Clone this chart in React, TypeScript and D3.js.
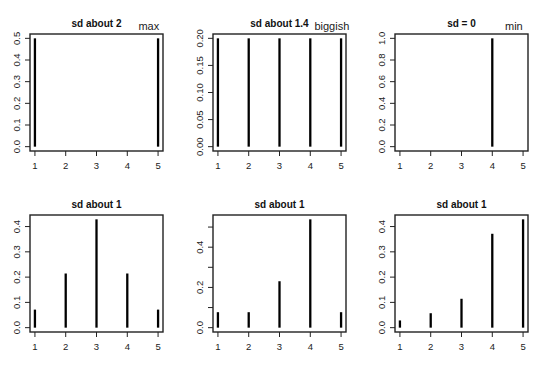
import React from 'react';
import * as d3 from 'd3';

// categories on the x axis
const categories = [1, 2, 3, 4, 5];
const xTickLabels = ['1', '2', '3', '4', '5'];

// probabilities for each panel
const probsA = [0.5, 0, 0, 0, 0.5];
const probsB = [0.2, 0.2, 0.2, 0.2, 0.2];
const probsC = [0, 0, 0, 1, 0];
const probsD = [1 / 14, 3 / 14, 6 / 14, 3 / 14, 1 / 14];
const probsE = [1 / 13, 1 / 13, 3 / 13, 7 / 13, 1 / 13];
const probsF = [1 / 35, 2 / 35, 4 / 35, 13 / 35, 15 / 35];

// y ticks (value, label) per panel
const yTicksA = ['0.0', '0.1', '0.2', '0.3', '0.4', '0.5'];
const yTicksB = ['0.00', '0.05', '0.10', '0.15', '0.20'];
const yTicksC = ['0.0', '0.2', '0.4', '0.6', '0.8', '1.0'];
const yTicksD = ['0.0', '0.1', '0.2', '0.3', '0.4'];
const yTicksE = ['0.0', '0.1', '0.2', '0.3', '0.4', '0.5'];
const yLabelsE = ['0.0', '', '0.2', '', '0.4', ''];
const yTicksF = ['0.0', '0.1', '0.2', '0.3', '0.4'];

const titles = ['sd about 2', 'sd about 1.4', 'sd = 0', 'sd about 1', 'sd about 1', 'sd about 1'];
const notes = ['max', 'biggish', 'min', '', '', ''];

const panels = [
  { probs: probsA, ticks: yTicksA, labels: yTicksA },
  { probs: probsB, ticks: yTicksB, labels: yTicksB },
  { probs: probsC, ticks: yTicksC, labels: yTicksC },
  { probs: probsD, ticks: yTicksD, labels: yTicksD },
  { probs: probsE, ticks: yTicksE, labels: yLabelsE },
  { probs: probsF, ticks: yTicksF, labels: yTicksF },
];

const boxLefts = [30, 213, 395];
const boxTops = [34, 215];
const boxW = 133;
const boxH = 117;
const font = 'Liberation Sans, Arial, Helvetica, sans-serif';

function Panel({ i }: { i: number }) {
  const p = panels[i];
  const left = boxLefts[i % 3];
  const top = boxTops[Math.floor(i / 3)];
  const bottom = top + boxH;
  const right = left + boxW;

  // R style: range extended by 4% on each side
  const xMin = d3.min(categories)!, xMax = d3.max(categories)!;
  const xPad = (xMax - xMin) * 0.04;
  const x = d3.scaleLinear().domain([xMin - xPad, xMax + xPad]).range([left, right]);
  const yMax = d3.max(p.probs)!;
  const yPad = yMax * 0.04;
  const y = d3.scaleLinear().domain([-yPad, yMax + yPad]).range([bottom, top]);

  return (
    <g>
      {categories.map((c, j) => (
        <line key={'b' + j} x1={x(c)} x2={x(c)} y1={y(0)} y2={y(p.probs[j])}
          stroke="#000" strokeWidth={2.3} />
      ))}
      <rect x={left} y={top} width={boxW} height={boxH} fill="none" stroke="#222" strokeWidth={1.4} />
      {categories.map((c, j) => (
        <g key={'x' + j}>
          <line x1={x(c)} x2={x(c)} y1={bottom} y2={bottom + 5} stroke="#222" strokeWidth={1} />
          <text x={x(c)} y={bottom + 18} textAnchor="middle" fontSize={9.5} fontFamily={font} fill="#222">
            {xTickLabels[j]}
          </text>
        </g>
      ))}
      {p.ticks.map((t, j) => {
        const v = parseFloat(t);
        return (
          <g key={'y' + j}>
            <line x1={left - 5} x2={left} y1={y(v)} y2={y(v)} stroke="#222" strokeWidth={1} />
            {p.labels[j] && (
              <text transform={`translate(${left - 10.5},${y(v)}) rotate(-90)`} textAnchor="middle"
                fontSize={9.5} fontFamily={font} fill="#222">
                {p.labels[j]}
              </text>
            )}
          </g>
        );
      })}
      <text x={(left + right) / 2} y={top - 7.5} textAnchor="middle" fontSize={10} fontWeight="bold"
        fontFamily={font} fill="#111">
        {titles[i]}
      </text>
      {notes[i] && (
        <text x={x(4.7)} y={top - 4} textAnchor="middle" fontSize={11} fontFamily={font} fill="#222">
          {notes[i]}
        </text>
      )}
    </g>
  );
}

export default function App() {
  return (
    <svg width={540} height={373} style={{ position: 'absolute', left: 0, top: 0, background: '#fff' }}>
      {panels.map((_, i) => <Panel key={i} i={i} />)}
    </svg>
  );
}
